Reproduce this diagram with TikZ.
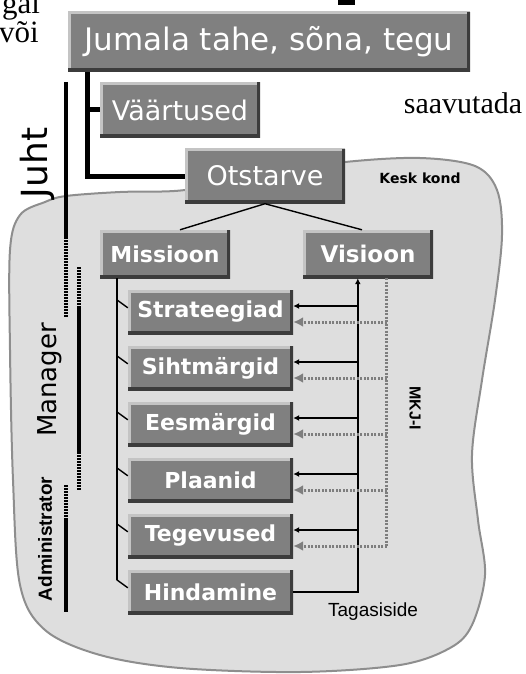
\documentclass[tikz,border=0pt]{standalone}
\usepackage{fontspec}
\setmainfont{Liberation Serif}
\setsansfont{DejaVu Sans}
\newfontfamily\narrowfont{Liberation Sans}
\usetikzlibrary{arrows.meta,positioning,calc}
\definecolor{kkgray}{HTML}{808080}
\definecolor{kklight}{HTML}{C4C4C4}
\definecolor{kkdark}{HTML}{3C3C3C}
\definecolor{kkcloud}{HTML}{DEDEDE}
\definecolor{kkedge}{HTML}{8E8E8E}
\definecolor{kkdots}{HTML}{7E7E7E}
\newcommand{\fsz}[1]{\fontsize{#1}{#1}\selectfont}
\tikzset{
  tile/.style={fill=kkgray, text=white, inner sep=0pt,
    path picture={
      \draw[kklight, line width=5pt] (path picture bounding box.south west) -- (path picture bounding box.north west) -- (path picture bounding box.north east);
      \draw[kkdark, line width=7pt] (path picture bounding box.south west) -- (path picture bounding box.south east) -- (path picture bounding box.north east);
    }},
  stackbox/.style={tile, minimum width=165pt, minimum height=44pt, font=\sffamily\bfseries\fsz{22}},
  spine/.style={line width=5pt, black},
  twig/.style={line width=1.4pt, black},
  fbline/.style={line width=1.6pt, black},
  fbarrow/.style={fbline, -{Latex[length=6pt,width=6pt]}},
  evline/.style={line width=3pt, kkdots, dash pattern=on 2pt off 1.5pt},
  evarrow/.style={evline, -{Latex[length=10pt,width=10pt,fill=kkdots]}},
  rolebar/.style={line width=4pt, black},
  roledots/.style={line width=4pt, black, dash pattern=on 1.5pt off 1.5pt},
  cloud/.style={fill=kkcloud, draw=kkedge, line width=2pt},
}
\begin{document}
\begin{tikzpicture}[x=1pt,y=-1pt]
\useasboundingbox (0,0) rectangle (525,674);
% surroundings
\draw[cloud] plot[smooth cycle, tension=0.55] coordinates {
  (10,250) (20,215) (45,202) (66,196) (120,192) (185,190) (250,175) (345,162)
  (420,158) (475,166) (497,190) (502,235) (495,300) (482,380) (472,455)
  (478,520) (485,575) (472,625) (450,648) (400,665) (300,672) (180,668)
  (100,655) (45,630) (20,585) (13,480) (10,350)};
\fill (338,0) rectangle (355,5);
\node[font=\fsz{31}, anchor=base west, inner sep=0pt] (gal) at (2,14) {gal};
\node[font=\fsz{31}, anchor=base west, inner sep=0pt] (voi) at (-1,43) {või};
\node[font=\fsz{30}, inner sep=0pt] (saav) at (463,103) {saavutada};

% top of the hierarchy
\node[tile, minimum width=402pt, minimum height=60pt, font=\sffamily\fsz{31}] (jumala) at (269,42) {Jumala tahe, sõna, tegu};
\node[tile, minimum width=160pt, minimum height=55pt, font=\sffamily\fsz{27}] (vaart) at (180,110) {Väärtused};
\node[tile, minimum width=160pt, minimum height=55pt, font=\sffamily\fsz{27}] (otst) at (265,176) {Otstarve};
\node[font=\sffamily\bfseries\fsz{14}] (kesk) at (420,178) {Kesk kond};
\coordinate (jtop) at ([xshift=20pt]jumala.south west);
\draw[spine] (jtop) |- (otst.west);
\draw[spine] (vaart.west) -- (vaart.west -| jtop);

\node[tile, minimum width=130pt, minimum height=48pt, font=\sffamily\bfseries\fsz{22}] (miss) at (165,254) {Missioon};
\node[tile, minimum width=130pt, minimum height=48pt, font=\sffamily\bfseries\fsz{23}] (vis) at (368,254) {Visioon};
\draw[twig] ([xshift=15pt]miss.north) -- (otst.south) -- ([xshift=-6pt]vis.north);

% steps
\foreach \lbl [count=\i] in {Strateegiad,Sihtmärgid,Eesmärgid,Plaanid,Tegevused,Hindamine}
  \node[stackbox] (b\i) at (210.5,256+56*\i) {\lbl};
\foreach \i in {1,...,6}
  \draw[twig] ($(b\i.north west)+(-11,10)$) -- ($(b\i.north west)+(0,18)$);
\coordinate (spend) at ($(b6.north west)+(-11,10)$);
\draw[twig] (miss.south -| spend) -- (spend);

% feedback
\coordinate (fb) at ($(vis.south west)+(55,0)$);
\coordinate (ev) at ($(vis.south west)+(84,0)$);
\draw[fbarrow] (b6.east) -| (fb);
\foreach \i in {1,...,5} {
  \coordinate (a\i) at ($(b\i.east)+(0,-6)$);
  \coordinate (d\i) at ($(b\i.east)+(0,10)$);
  \draw[fbarrow] (a\i -| fb) -- (a\i);
  \draw[evarrow] (d\i -| ev) -- (d\i);
}
\draw[evline] (ev) -- (d5 -| ev);
\node[font=\narrowfont\fsz{19}] (tagasi) at (373,612) {Tagasiside};
\node[font=\narrowfont\bfseries\fsz{16}, rotate=-90] (mkj) at (415,408) {MKJ-I};

% roles
\draw[rolebar] (66,82) -- (66,237);
\draw[roledots] (66,237) -- (66,318);
\draw[roledots] (79,267) -- (79,308);
\draw[rolebar] (79,308) -- (79,452);
\draw[roledots] (79,452) -- (79,490);
\draw[roledots] (66,485) -- (66,520);
\draw[rolebar] (66,520) -- (66,612);
\node[font=\sffamily\fsz{36}, rotate=90] (juht) at (37,163) {Juht};
\node[font=\sffamily\fsz{26}, rotate=90] (manager) at (50,380) {Manager};
\node[font=\narrowfont\bfseries\fsz{19}, rotate=90] (admin) at (45,539) {Administrator};
\end{tikzpicture}
\end{document}
